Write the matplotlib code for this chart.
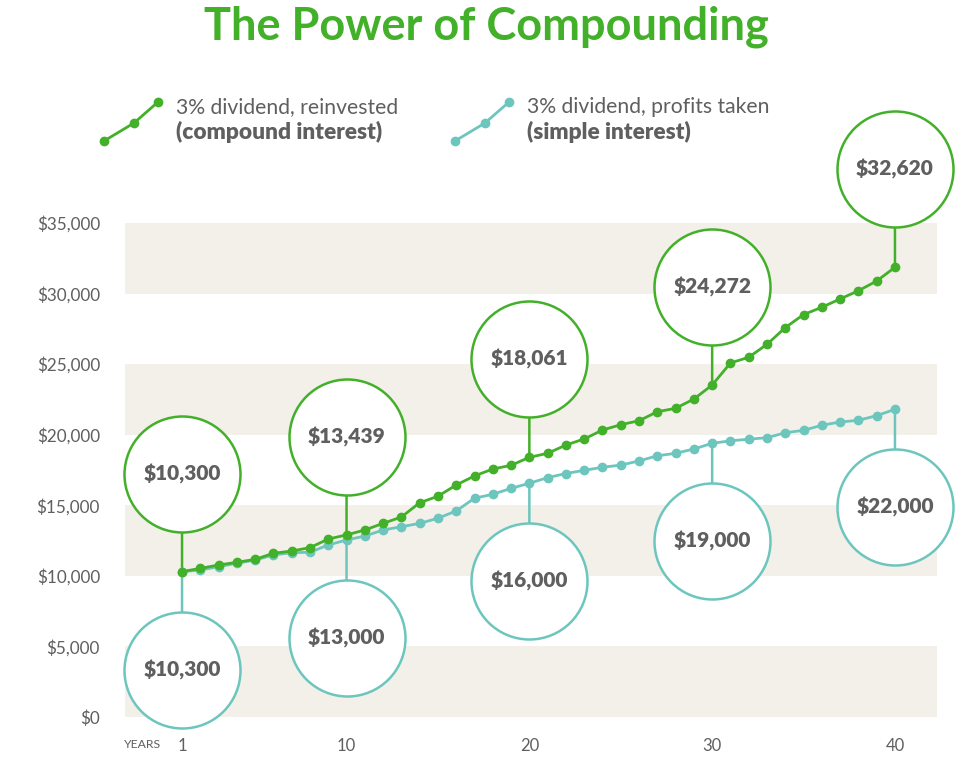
import matplotlib
matplotlib.use("Agg")
import matplotlib.pyplot as plt
from matplotlib.transforms import offset_copy
from matplotlib.lines import Line2D

plt.rcParams['font.family'] = ['Lato', 'DejaVu Sans']

# ---- data ----
years = list(range(1, 41))
compound = [10300, 10530, 10770, 10960, 11170, 11600, 11760, 12000, 12610, 12900,
            13250, 13720, 14170, 15180, 15640, 16440, 17080, 17570, 17830, 18400,
            18680, 19270, 19700, 20330, 20710, 20990, 21630, 21870, 22530, 23520,
            25080, 25490, 26400, 27590, 28510, 29030, 29620, 30200, 30890, 31860]
simple = [10300, 10410, 10650, 10890, 11120, 11480, 11640, 11670, 12190, 12540,
          12820, 13250, 13480, 13720, 14080, 14600, 15500, 15780, 16200, 16560,
          16960, 17250, 17480, 17690, 17850, 18140, 18510, 18680, 18990, 19390,
          19570, 19680, 19790, 20140, 20310, 20670, 20900, 21020, 21350, 21800]
bubble_years = [1, 10, 20, 30, 40]
compound_labels = ["$10,300", "$13,439", "$18,061", "$24,272", "$32,620"]
simple_labels = ["$10,300", "$13,000", "$16,000", "$19,000", "$22,000"]
yticks = [0, 5000, 10000, 15000, 20000, 25000, 30000, 35000]
ytick_labels = ["$0", "$5,000", "$10,000", "$15,000", "$20,000", "$25,000", "$30,000", "$35,000"]
xticks = [1, 10, 20, 30, 40]
xtick_labels = ["1", "10", "20", "30", "40"]

GREEN = "#43B02A"
CYAN = "#6DC6BD"
GRAY = "#5F5F5F"
BAND = "#F3F0EA"

W, H = 971, 761
fig = plt.figure(figsize=(W / 100, H / 100), dpi=100)
ax = fig.add_axes([125 / W, (H - 717) / H, 812 / W, 494 / H])
ax.set_xlim(-2.12, 42.3)
ax.set_ylim(0, 35000)
for s in ax.spines.values():
    s.set_visible(False)

# bands
for lo in [0, 10000, 20000, 30000]:
    ax.axhspan(lo, lo + 5000, color=BAND, zorder=0, lw=0)

ax.set_yticks(yticks)
ax.set_yticklabels(ytick_labels)
ax.set_xticks(xticks)
ax.set_xticklabels(xtick_labels)
ax.tick_params(axis='y', length=0, pad=18, labelsize=12.3, labelcolor=GRAY)
ax.tick_params(axis='x', length=0, pad=15, labelsize=12, labelcolor=GRAY)
ax.text(-2.15, -1950, "YEARS", fontsize=8.8, color=GRAY, ha='left', va='center')

# lines
ax.plot(years, simple, color=CYAN, lw=2, marker='o', ms=6, zorder=3, clip_on=False)
ax.plot(years, compound, color=GREEN, lw=2, marker='o', ms=6, zorder=4, clip_on=False)

off_px = 98
diam_pt = 116 * 72 / 100
ew = 1.8

def bubble(x, y, label, color, up):
    dy = off_px if up else -off_px
    tr = offset_copy(ax.transData, fig=fig, x=0, y=dy, units='dots')
    # connector
    ax.annotate("", xy=(x, y), xytext=(0, dy * 72 / 100), textcoords='offset points',
                arrowprops=dict(arrowstyle='-', color=color, lw=1.8,
                                shrinkA=0, shrinkB=0), zorder=2, annotation_clip=False)
    ax.plot([x], [y], transform=tr, marker='o', ms=diam_pt, mfc='white', mec=color,
            mew=ew, zorder=5, clip_on=False, ls='none')
    ax.text(x, y, label, transform=tr, ha='center', va='center', fontsize=15,
            fontweight='heavy', color=GRAY, zorder=6, clip_on=False)

for yr, lab in zip(bubble_years, compound_labels):
    bubble(yr, compound[yr - 1], lab, GREEN, True)
for yr, lab in zip(bubble_years, simple_labels):
    bubble(yr, simple[yr - 1], lab, CYAN, False)

# title
fig.text(486 / W, 1 - 27 / H, "The Power of Compounding", ha='center', va='center',
         fontsize=32.5, fontweight='bold', color=GREEN)

# legend icons
def legend_icon(x0, color):
    xs = [x0, x0 + 30, x0 + 54]
    ys = [141, 123, 102]
    fig.add_artist(Line2D([v / W for v in xs], [1 - v / H for v in ys], color=color, lw=2,
                          marker='o', ms=6, transform=fig.transFigure))

legend_icon(104, GREEN)
legend_icon(455, CYAN)
fig.text(176 / W, 1 - 107 / H, "3% dividend, reinvested", ha='left', va='center',
         fontsize=15.2, color=GRAY)
fig.text(176 / W, 1 - 132 / H, "(compound interest)", ha='left', va='center',
         fontsize=16.3, fontweight='heavy', color=GRAY)
fig.text(527 / W, 1 - 107 / H, "3% dividend, profits taken", ha='left', va='center',
         fontsize=15.2, color=GRAY)
fig.text(527 / W, 1 - 132 / H, "(simple interest)", ha='left', va='center',
         fontsize=16.3, fontweight='heavy', color=GRAY)

fig.savefig("out.png", dpi=100)
